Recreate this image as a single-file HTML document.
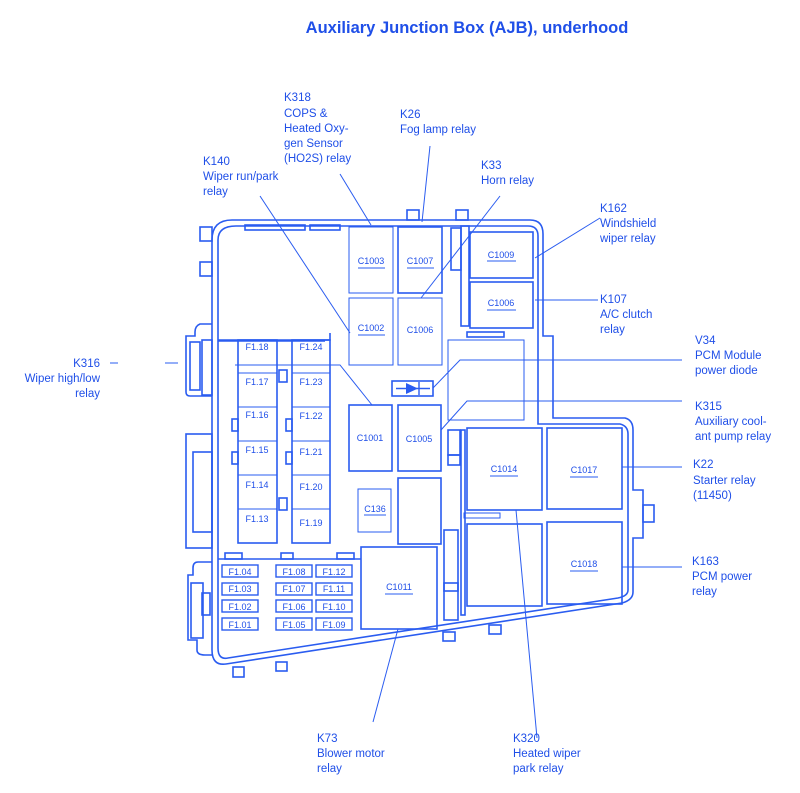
<!DOCTYPE html>
<html><head><meta charset="utf-8"><style>
html,body{margin:0;padding:0;background:#fff;}
svg{display:block;}
text{font-family:"Liberation Sans",sans-serif;fill:#1f4fe8;}
</style></head><body>
<svg width="800" height="793" viewBox="0 0 800 793" xmlns="http://www.w3.org/2000/svg">
<text x="467" y="33" font-size="16.5" font-weight="bold" text-anchor="middle">Auxiliary Junction Box (AJB), underhood</text>
<g fill="none" stroke="#2a5cf0" stroke-width="1.6">
<!-- outer body -->
<path d="M212,240 Q212,220 232,220 L530,220 Q543,220 543,234 L543,336 L553,336 L553,418 L625,418 Q633,420 633,430 L633,490 L643,490 L643,538 L633,538 L633,592 Q633,600 622,603 L226,664 Q212,666 212,650 Z"/>
<path d="M218,240 Q218,226 236,226 L528,226 Q538,226 538,236 L538,424 L620,424 Q628,426 628,434 L628,590 Q628,596 618,598 L228,658 Q218,660 218,648 Z"/>
<rect x="643" y="505" width="11" height="17"/>
<!-- top tabs -->
<rect x="200" y="227" width="12" height="14"/>
<rect x="200" y="262" width="12" height="14"/>
<rect x="245" y="225" width="60" height="5"/>
<rect x="310" y="225" width="30" height="5"/>
<rect x="407" y="210" width="12" height="10"/>
<rect x="456" y="210" width="12" height="10"/>
<!-- left connectors -->
<path d="M212,324 L200,324 Q195,326 195,332 L195,336 L186,336 L186,392 Q186,396 190,396 L212,396"/>
<rect x="190" y="342" width="10" height="48"/>
<rect x="202" y="340" width="10" height="55"/>
<rect x="186" y="434" width="26" height="114"/>
<rect x="193" y="452" width="19" height="80"/>
<path d="M212,562 L198,562 Q193,562 193,568 L193,575 L188,575 L188,640 L197,640 L197,650 Q197,655 205,655 L212,655"/>
<rect x="191" y="583" width="12" height="55"/>
<rect x="202" y="593" width="8" height="22"/>
<!-- bottom tabs -->
<rect x="233" y="667" width="11" height="10"/>
<rect x="276" y="662" width="11" height="9"/>
<rect x="443" y="632" width="12" height="9"/>
<rect x="489" y="625" width="12" height="9"/>
<!-- relays upper -->
<rect x="349" y="227" width="44" height="66" stroke-width="1"/>
<rect x="398" y="227" width="44" height="66"/>
<rect x="349" y="298" width="44" height="67" stroke-width="1"/>
<rect x="398" y="298" width="44" height="67" stroke-width="1"/>
<rect x="349" y="405" width="43" height="66"/>
<rect x="398" y="405" width="43" height="66"/>
<rect x="448" y="340" width="76" height="80" stroke-width="1"/>
<rect x="392" y="381" width="41" height="15"/>
<rect x="451" y="228" width="10" height="42"/>
<rect x="461" y="226" width="8" height="100"/>
<rect x="470" y="232" width="63" height="46"/>
<rect x="470" y="282" width="63" height="46"/>
<rect x="467" y="332" width="37" height="5"/>
<!-- fuse panel -->
<path d="M218,340 L330,340 L330,333 M218,341 L325,341"/>
<rect x="238" y="340" width="39" height="203"/>
<rect x="292" y="340" width="38" height="203"/>
<path d="M238,373 H277 M238,407 H277 M238,441 H277 M238,475 H277 M238,509 H277 M292,373 H330 M292,407 H330 M292,441 H330 M292,475 H330 M292,509 H330" stroke-width="1"/>
<rect x="279" y="370" width="8" height="12"/>
<rect x="279" y="498" width="8" height="12"/>
<rect x="232" y="419" width="6" height="12"/>
<rect x="232" y="452" width="6" height="12"/>
<rect x="286" y="419" width="6" height="12"/>
<rect x="286" y="452" width="6" height="12"/>
<!-- middle -->
<rect x="358" y="489" width="33" height="43" stroke-width="1"/>
<rect x="398" y="478" width="43" height="66"/>
<rect x="361" y="547" width="76" height="82"/>
<path d="M218,559 H361"/>
<rect x="225" y="553" width="17" height="6"/>
<rect x="281" y="553" width="12" height="6"/>
<rect x="337" y="553" width="17" height="6"/>
<rect x="444" y="530" width="14" height="90"/>
<rect x="444" y="583" width="14" height="8"/>
<rect x="461" y="430" width="4" height="185"/>
<rect x="448" y="430" width="12" height="25"/>
<rect x="448" y="455" width="12" height="10"/>
<rect x="467" y="428" width="75" height="82"/>
<rect x="547" y="428" width="75" height="81"/>
<rect x="467" y="524" width="75" height="82"/>
<rect x="547" y="522" width="75" height="82"/>
<rect x="464" y="513" width="36" height="5" stroke-width="1"/>
<!-- small fuses -->
<g stroke-width="1.4">
<rect x="222" y="565" width="36" height="12"/><rect x="222" y="583" width="36" height="12"/><rect x="222" y="600" width="36" height="12"/><rect x="222" y="618" width="36" height="12"/>
<rect x="276" y="565" width="36" height="12"/><rect x="276" y="583" width="36" height="12"/><rect x="276" y="600" width="36" height="12"/><rect x="276" y="618" width="36" height="12"/>
<rect x="316" y="565" width="36" height="12"/><rect x="316" y="583" width="36" height="12"/><rect x="316" y="600" width="36" height="12"/><rect x="316" y="618" width="36" height="12"/>
</g>
</g>
<!-- diode -->
<path d="M406,383 L418,388.5 L406,394 Z" fill="#2a5cf0"/>
<path d="M419,382 V395 M396,388.5 H430" stroke="#2a5cf0" stroke-width="1.4"/>
<!-- leaders -->
<g stroke="#2a5cf0" stroke-width="1" fill="none">
<path d="M340,174 L371,225"/>
<path d="M430,146 L422,222"/>
<path d="M500,196 L421,298"/>
<path d="M260,196 L350,333"/>
<path d="M110,363 H118 M165,363 H178"/>
<path d="M235,365 H340 L372,405"/>
<path d="M600,218 L535,258"/>
<path d="M535,300 H598"/>
<path d="M433,388 L460,360 H682"/>
<path d="M441,430 L467,401 H682"/>
<path d="M622,467 H682"/>
<path d="M622,567 H682"/>
<path d="M398,629 L373,722"/>
<path d="M516,510 L537,738"/>
</g>
<!-- box labels -->
<g font-size="9" text-anchor="middle">
<text x="371" y="264">C1003</text><text x="420" y="264">C1007</text>
<text x="371" y="331">C1002</text><text x="420" y="333">C1006</text>
<text x="370" y="441">C1001</text><text x="419" y="442">C1005</text>
<text x="501" y="258">C1009</text><text x="501" y="306">C1006</text>
<text x="375" y="512">C136</text><text x="399" y="590">C1011</text>
<text x="504" y="472">C1014</text><text x="584" y="473">C1017</text>
<text x="584" y="567">C1018</text>
<text x="257" y="350">F1.18</text><text x="311" y="350">F1.24</text>
<text x="257" y="385">F1.17</text><text x="311" y="385">F1.23</text>
<text x="257" y="418">F1.16</text><text x="311" y="419">F1.22</text>
<text x="257" y="453">F1.15</text><text x="311" y="455">F1.21</text>
<text x="257" y="488">F1.14</text><text x="311" y="490">F1.20</text>
<text x="257" y="522">F1.13</text><text x="311" y="526">F1.19</text>
<text x="240" y="575">F1.04</text><text x="240" y="592">F1.03</text><text x="240" y="610">F1.02</text><text x="240" y="628">F1.01</text>
<text x="294" y="575">F1.08</text><text x="294" y="592">F1.07</text><text x="294" y="610">F1.06</text><text x="294" y="628">F1.05</text>
<text x="334" y="575">F1.12</text><text x="334" y="592">F1.11</text><text x="334" y="610">F1.10</text><text x="334" y="628">F1.09</text>
</g>
<g stroke="#2a5cf0" stroke-width="1">
<path d="M358,268 H385 M407,268 H434 M358,335 H385 M487,261 H516 M487,310 H516 M364,515 H386 M385,594 H413 M490,476 H518 M570,477 H598 M570,571 H598"/>
</g>
<!-- callout labels -->
<g font-size="11.5">
<text x="284" y="101">K318</text><text x="284" y="117">COPS &amp;</text><text x="284" y="132">Heated Oxy-</text><text x="284" y="147">gen Sensor</text><text x="284" y="162">(HO2S) relay</text>
<text x="400" y="118">K26</text><text x="400" y="133">Fog lamp relay</text>
<text x="481" y="169">K33</text><text x="481" y="184">Horn relay</text>
<text x="203" y="165">K140</text><text x="203" y="180">Wiper run/park</text><text x="203" y="195">relay</text>
<text x="600" y="212">K162</text><text x="600" y="227">Windshield</text><text x="600" y="242">wiper relay</text>
<text x="600" y="303">K107</text><text x="600" y="318">A/C clutch</text><text x="600" y="333">relay</text>
<text x="695" y="344">V34</text><text x="695" y="359">PCM Module</text><text x="695" y="374">power diode</text>
<text x="695" y="410">K315</text><text x="695" y="425">Auxiliary cool-</text><text x="695" y="440">ant pump relay</text>
<text x="693" y="468">K22</text><text x="693" y="484">Starter relay</text><text x="693" y="499">(11450)</text>
<text x="692" y="565">K163</text><text x="692" y="580">PCM power</text><text x="692" y="595">relay</text>
<text x="100" y="367" text-anchor="end">K316</text><text x="100" y="382" text-anchor="end">Wiper high/low</text><text x="100" y="397" text-anchor="end">relay</text>
<text x="317" y="742">K73</text><text x="317" y="757">Blower motor</text><text x="317" y="772">relay</text>
<text x="513" y="742">K320</text><text x="513" y="757">Heated wiper</text><text x="513" y="772">park relay</text>
</g>
</svg>
</body></html>
